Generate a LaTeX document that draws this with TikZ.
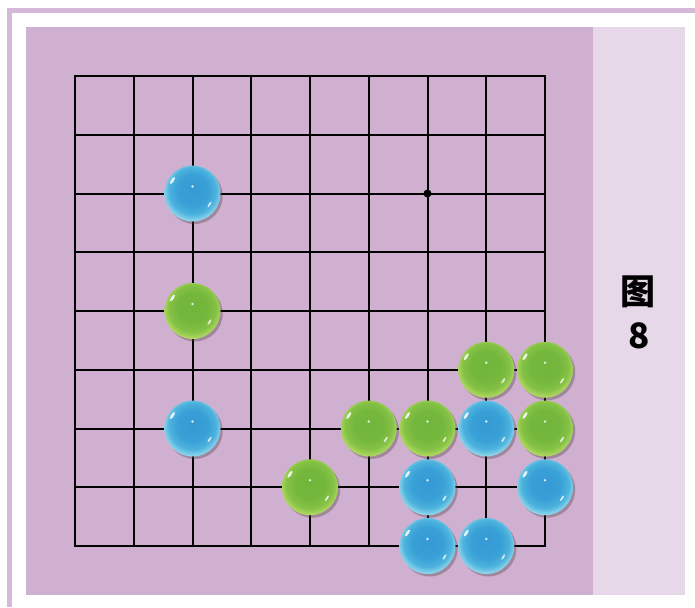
\documentclass[tikz,border=0pt]{standalone}
\usepackage{fontspec}
\usepackage{tikz}
\usetikzlibrary{shadows}
\newfontfamily\cjk{Noto Sans CJK SC}
\definecolor{boardbg}{RGB}{207,176,208}
\definecolor{sidebg}{RGB}{230,215,233}
\definecolor{framec}{RGB}{214,184,216}
\pgfdeclareradialshading{bluestone}{\pgfpoint{0bp}{4bp}}{rgb(0bp)=(0.21,0.60,0.83); rgb(14bp)=(0.22,0.63,0.84); rgb(21bp)=(0.30,0.70,0.87); rgb(29bp)=(0.70,0.91,0.95); rgb(50bp)=(0.70,0.91,0.95)}
\pgfdeclareradialshading{greenstone}{\pgfpoint{0bp}{4bp}}{rgb(0bp)=(0.44,0.71,0.23); rgb(14bp)=(0.46,0.72,0.24); rgb(21bp)=(0.52,0.76,0.27); rgb(29bp)=(0.78,0.89,0.44); rgb(50bp)=(0.78,0.89,0.44)}

\begin{document}
\begin{tikzpicture}[x=1pt,y=-1pt,
    gridline/.style={line width=2pt,black},
    stone/.style={circle,minimum size=56pt,inner sep=0pt,
      drop shadow={shadow xshift=2.2pt,shadow yshift=-2.5pt,opacity=.35,fill=black!80!magenta},
      path picture={
        \fill[white,opacity=.85] ([shift={(-20pt,13pt)}]path picture bounding box.center) ellipse [x radius=4pt,y radius=1.4pt,rotate=57];
        \fill[white,opacity=.75] ([shift={(17pt,-11pt)}]path picture bounding box.center) ellipse [x radius=3.2pt,y radius=1pt,rotate=57];
        \fill[white,opacity=.8] ([shift={(0pt,7pt)}]path picture bounding box.center) circle (1.3pt);}},
    bstone/.style={stone,shade,shading=bluestone},
    gstone/.style={stone,shade,shading=greenstone},
    figtxt/.style={font=\cjk\bfseries\fontsize{35}{35}\selectfont,inner sep=0pt}]
    \useasboundingbox (0,0) rectangle (695,607);
    \fill[framec] (7,8) rectangle (695,13);
    \fill[framec] (7,8) rectangle (12,607);
    \fill[boardbg] (26,27) rectangle (593,595);
    \fill[sidebg] (593,27) rectangle (685,595);
    \node[figtxt] (tu) at (638,292) {图};
    \node[figtxt] (num) at (639,336) {8};

  \begin{scope}[shift={(75,76)},x=58.75pt,y=-58.75pt]
    \draw[gridline] (0,0) rectangle (8,8);
    \foreach \k in {1,...,7}{
      \draw[gridline] (\k,0)--(\k,8);
      \draw[gridline] (0,\k)--(8,\k);}
    \fill (6,2) circle(4pt);

    \node[bstone] (b1) at (2,2) {};
    \node[gstone] (g1) at (2,4) {};
    \node[bstone] (b2) at (2,6) {};
    \node[gstone] (g2) at (7,5) {};
     \node[gstone] (g3) at (8,5) {};
    \node[gstone] (g4) at (5,6) {};
     \node[gstone] (g5) at (6,6) {};
    \node[bstone] (b3) at (7,6) {};
     \node[gstone] (g6) at (8,6) {};
    \node[gstone] (g7) at (4,7) {};
     \node[bstone] (b4) at (6,7) {};
    \node[bstone] (b5) at (8,7) {};
     \node[bstone] (b6) at (6,8) {};
    \node[bstone] (b7) at (7,8) {};
  \end{scope}
\end{tikzpicture}
\end{document}
